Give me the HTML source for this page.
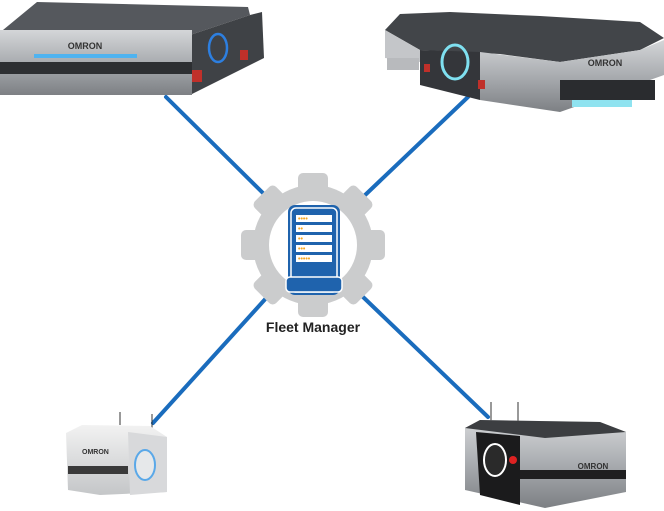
<!DOCTYPE html>
<html><head><meta charset="utf-8"><style>
html,body{margin:0;padding:0;background:#fff;}
svg{display:block}
</style></head><body>
<svg width="664" height="511" viewBox="0 0 664 511" xmlns="http://www.w3.org/2000/svg">
<defs>
<linearGradient id="silv" x1="0" y1="0" x2="0" y2="1"><stop offset="0" stop-color="#d4d6d8"/><stop offset="0.5" stop-color="#a9acb0"/><stop offset="1" stop-color="#7d8084"/></linearGradient>
<linearGradient id="lt" x1="0" y1="0" x2="0" y2="1"><stop offset="0" stop-color="#f2f2f2"/><stop offset="1" stop-color="#c4c6c8"/></linearGradient>
</defs>
<g stroke="#1a6cbd" stroke-width="4" stroke-linecap="round">
<line x1="166" y1="97" x2="268" y2="198"/>
<line x1="468" y1="97" x2="362" y2="198"/>
<line x1="153" y1="423" x2="268" y2="296"/>
<line x1="488" y1="417" x2="362" y2="296"/>
</g>
<g transform="translate(313,245)" fill="#cbcccd">
<circle r="60"/>
<g id="t"><rect x="-15" y="-72" width="30" height="22" rx="5"/></g>
<use href="#t" transform="rotate(45)"/><use href="#t" transform="rotate(90)"/><use href="#t" transform="rotate(135)"/>
<use href="#t" transform="rotate(180)"/><use href="#t" transform="rotate(225)"/><use href="#t" transform="rotate(270)"/><use href="#t" transform="rotate(315)"/>
<circle r="44" fill="#fff"/>
</g>
<rect x="288" y="205" width="52" height="90" rx="7" fill="#1f63ad"/>
<rect x="291" y="208" width="46" height="84" rx="5" fill="none" stroke="#fff" stroke-width="1.5"/>
<g fill="#fff">
<rect x="296" y="215" width="36" height="7"/><rect x="296" y="225" width="36" height="7"/><rect x="296" y="235" width="36" height="7"/><rect x="296" y="245" width="36" height="7"/><rect x="296" y="255" width="36" height="7"/>
</g>
<g fill="#f5a623" font-family="Liberation Sans,sans-serif" font-size="7" font-weight="bold">
<text x="298" y="221">••••</text><text x="298" y="231">••</text><text x="298" y="241">••</text><text x="298" y="251">•••</text><text x="298" y="261">•••••</text>
</g>
<rect x="286" y="277" width="56" height="15" rx="4" fill="#1f63ad" stroke="#fff" stroke-width="1.5"/>
<text x="313" y="332" text-anchor="middle" font-family="Liberation Sans,sans-serif" font-weight="bold" font-size="14" fill="#222">Fleet Manager</text>

<polygon points="3,30 37,2 248,7 250,15 190,35" fill="#55585d"/>
<polygon points="190,35 250,15 262,12 264,58 190,95" fill="#3f4246"/>
<rect x="0" y="30" width="192" height="65" fill="url(#silv)"/>
<rect x="0" y="62" width="192" height="12" fill="#2d2f32"/>
<rect x="34" y="54" width="103" height="4" fill="#4fb3f0"/>
<text x="85" y="49" text-anchor="middle" font-family="Liberation Sans,sans-serif" font-weight="bold" font-size="9" fill="#333">OMRON</text>
<ellipse cx="218" cy="48" rx="9" ry="14" fill="none" stroke="#2d7fe0" stroke-width="2.5"/>
<rect x="192" y="70" width="10" height="12" fill="#c0302a"/><rect x="240" y="50" width="8" height="10" fill="#c0302a"/>

<polygon points="385,30 400,14 450,12 540,16 640,22 664,38 640,50 560,62 500,54 420,50" fill="#424549"/>
<polygon points="385,30 420,50 420,62 385,58" fill="#c4c6c9"/>
<polygon points="420,50 480,52 480,100 420,85" fill="#34363a"/>
<polygon points="480,52 560,62 640,50 664,40 664,75 600,98 560,112 480,100" fill="url(#silv)"/>
<rect x="560" y="80" width="95" height="20" fill="#2a2c2f"/>
<rect x="572" y="100" width="60" height="7" fill="#8fe3f0"/>
<text x="605" y="66" text-anchor="middle" font-family="Liberation Sans,sans-serif" font-weight="bold" font-size="9" fill="#333">OMRON</text>
<ellipse cx="455" cy="62" rx="13" ry="17" fill="none" stroke="#7fe0f0" stroke-width="3"/>
<rect x="387" y="58" width="32" height="12" fill="#b8babd"/>
<rect x="424" y="64" width="6" height="8" fill="#c0302a"/><rect x="478" y="80" width="7" height="9" fill="#c0302a"/>

<line x1="120" y1="412" x2="120" y2="425" stroke="#333"/><line x1="152" y1="414" x2="152" y2="428" stroke="#333"/>
<polygon points="66,433 82,425 150,426 167,437 167,492 100,495 68,490" fill="url(#lt)"/>
<polygon points="128,432 167,437 167,492 130,495" fill="#d8d9db"/>
<rect x="68" y="466" width="60" height="8" fill="#3a3a3a"/>
<ellipse cx="145" cy="465" rx="10" ry="15" fill="#e6e8ea" stroke="#5aa8e8" stroke-width="2"/>
<text x="82" y="454" font-family="Liberation Sans,sans-serif" font-weight="bold" font-size="7" fill="#333">OMRON</text>

<line x1="491" y1="402" x2="491" y2="432" stroke="#333"/><line x1="518" y1="402" x2="518" y2="425" stroke="#333"/>
<polygon points="465,428 480,420 600,422 626,432 626,492 545,508 465,490" fill="url(#silv)"/>
<polygon points="465,428 480,420 600,422 626,432 545,438" fill="#3c3e41"/>
<polygon points="476,432 520,436 520,505 480,495" fill="#1b1b1c"/>
<rect x="520" y="470" width="106" height="9" fill="#1f1f20"/>
<ellipse cx="495" cy="460" rx="11" ry="16" fill="#2a2a2a" stroke="#fff" stroke-width="2"/>
<circle cx="513" cy="460" r="4" fill="#d22"/>
<text x="593" y="469" text-anchor="middle" font-family="Liberation Sans,sans-serif" font-weight="bold" font-size="8" fill="#333">OMRON</text>
</svg>
</body></html>
